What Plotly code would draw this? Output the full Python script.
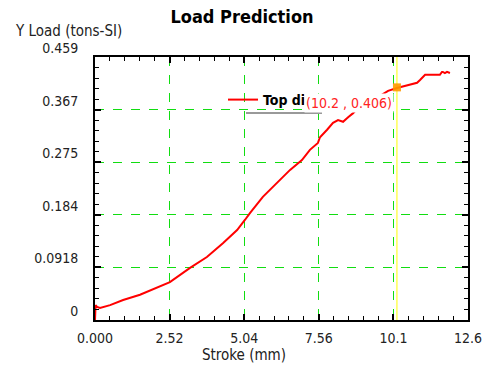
import plotly.graph_objects as go

# Data
stroke = [0, 0.02, 0.07, 0.17, 0.51, 0.95, 1.52, 2.09, 2.53, 3.21, 3.78, 4.32, 4.80, 5.07,
          5.24, 5.67, 6.25, 6.59, 6.99, 7.26, 7.53, 7.60, 7.84, 8.04, 8.21, 8.38, 8.55,
          8.72, 8.88, 9.29, 9.63, 9.90, 10.20, 10.64, 10.88, 10.98, 11.15, 11.49, 11.65,
          11.72, 11.75, 11.82, 11.89, 11.99]
load = [0, 0.026, 0.023, 0.021, 0.026, 0.035, 0.044, 0.056, 0.066, 0.091, 0.110, 0.134,
        0.157, 0.175, 0.187, 0.215, 0.244, 0.262, 0.279, 0.297, 0.309, 0.319, 0.332, 0.344,
        0.349, 0.346, 0.354, 0.361, 0.370, 0.380, 0.391, 0.400, 0.405, 0.410, 0.414, 0.419,
        0.428, 0.428, 0.428, 0.433, 0.433, 0.431, 0.433, 0.431]

cursor_x = [10.2]
cursor_y = [0.406]

x_ticks = [0, 2.52, 5.04, 7.56, 10.08, 12.6]
x_tick_labels = ["0.000", "2.52", "5.04", "7.56", "10.1", "12.6"]
y_ticks = [0, 0.0918, 0.1836, 0.2754, 0.3672, 0.459]
y_tick_labels = ["0", "0.0918", "0.184", "0.275", "0.367", "0.459"]

FONT = "DejaVu Sans Condensed, Liberation Sans Narrow, Liberation Sans, Arial, sans-serif"

fig = go.Figure()

# yellow cursor line
fig.add_trace(go.Scatter(x=[cursor_x[0], cursor_x[0]], y=[0, 0.459], mode="lines",
                         line=dict(color="#ffff00", width=1), showlegend=False,
                         hoverinfo="skip"))

fig.add_trace(go.Scatter(x=stroke, y=load, mode="lines", name="Top die",
                         line=dict(color="#ff0000", width=2)))

fig.add_trace(go.Scatter(x=cursor_x, y=cursor_y, mode="markers", showlegend=False,
                         marker=dict(color="#ff9900", size=8, symbol="square",
                                     opacity=0.9)))

axis_common = dict(
    showline=True, linecolor="black", linewidth=2, mirror="allticks",
    ticks="inside", ticklen=6, tickwidth=2, tickcolor="black",
    showgrid=True, gridcolor="#11dd11", gridwidth=1, griddash="dash",
    zeroline=False, automargin=False,
    tickfont=dict(family=FONT, size=14, color="#222"),
)

fig.update_xaxes(range=[0, 12.6], tickvals=x_ticks, ticktext=x_tick_labels,
                 ticklabelstandoff=4,
                 minor=dict(dtick=0.504, tick0=0, ticks="inside", ticklen=4,
                            tickwidth=1, tickcolor="black", showgrid=False),
                 **axis_common)
fig.update_yaxes(range=[0, 0.459], tickvals=y_ticks, ticktext=y_tick_labels,
                 ticklabelshift=-9, ticklabelstandoff=12,
                 minor=dict(dtick=0.01836, tick0=0, ticks="inside", ticklen=4,
                            tickwidth=1, tickcolor="black", showgrid=False),
                 **axis_common)

fig.update_layout(
    width=484, height=367,
    margin=dict(l=95, r=16, t=57, b=47, autoexpand=False),
    paper_bgcolor="white", plot_bgcolor="white",
    title=dict(text="<b>Load Prediction</b>", x=0.5, xanchor="center",
               y=1 - 17 / 367, yanchor="middle",
               font=dict(family=FONT, size=18, color="black")),
    showlegend=True,
    legend=dict(x=(223 - 95) / 373, y=(320 - 100) / 263, xanchor="left", yanchor="middle",
                bgcolor="rgba(0,0,0,0)", borderwidth=0,
                font=dict(family=FONT, size=14, color="black", weight="bold")),
    font=dict(family=FONT),
)

fig.add_annotation(text="Y Load (tons-SI)", xref="paper", yref="paper",
                   x=(13 - 95) / 373, y=(320 - 31) / 263, xanchor="left", yanchor="middle",
                   showarrow=False, font=dict(family=FONT, size=15, color="#222"))
fig.add_annotation(text="Stroke (mm)", xref="paper", yref="paper",
                   x=(244 - 95) / 373, y=(320 - 355) / 263, xanchor="center", yanchor="middle",
                   showarrow=False, font=dict(family=FONT, size=15, color="#222"))
fig.add_annotation(text="(%.1f , %.3f)" % (cursor_x[0], cursor_y[0]), xref="paper", yref="paper",
                   x=(349 - 95) / 373, y=(320 - 103) / 263, xanchor="center", yanchor="middle",
                   showarrow=False, bgcolor="white",
                   font=dict(family=FONT, size=14, color="#ff2222"))

fig.add_shape(type="line", xref="paper", yref="paper",
              x0=(246 - 95) / 373, x1=(322 - 95) / 373,
              y0=(320 - 113) / 263, y1=(320 - 113) / 263,
              line=dict(color="#999999", width=2))

fig.write_html("out.html", config={"displayModeBar": False},
               post_script="document.body.style.margin='0px';document.body.style.overflow='hidden';")
